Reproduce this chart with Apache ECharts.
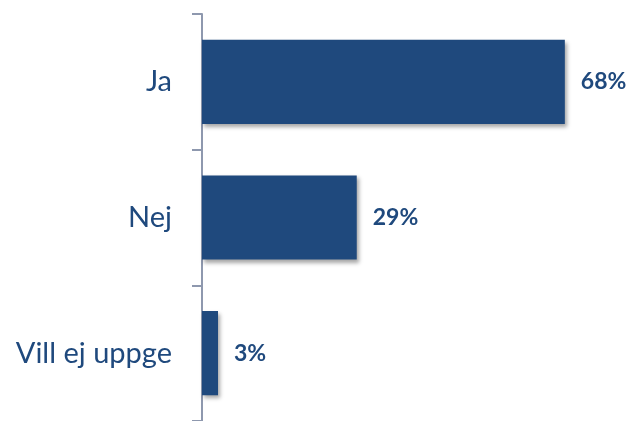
<!DOCTYPE html>
<html>
<head>
<meta charset="utf-8">
<script src="https://cdn.jsdelivr.net/npm/echarts@6/dist/echarts.min.js"></script>
<style>html,body{margin:0;padding:0;background:#fff;}#c{width:631px;height:421px;}</style>
</head>
<body>
<div id="c"></div>
<script>
var categories = ['Ja', 'Nej', 'Vill ej uppge'];
var values = [68, 29, 3];

var chart = echarts.init(document.getElementById('c'), null, {renderer: 'canvas'});
chart.setOption({
  animation: false,
  backgroundColor: '#ffffff',
  grid: {left: 202, top: 14, right: 0, height: 408, containLabel: false},
  xAxis: {type: 'value', min: 0, max: 80.4, show: false},
  yAxis: {
    type: 'category', data: categories, inverse: true,
    axisLine: {show: true, lineStyle: {color: '#8e98ae', width: 2}},
    axisTick: {show: true, length: 10, lineStyle: {color: '#8e98ae', width: 2}},
    axisLabel: {color: '#1f497d', fontSize: 29, fontFamily: 'Lato', margin: 30},
    splitLine: {show: false}
  },
  series: [{
    type: 'bar', data: values, barCategoryGap: '38%',
    itemStyle: {color: '#1f497d', shadowColor: 'rgba(0,0,0,0.35)', shadowBlur: 4, shadowOffsetX: 2, shadowOffsetY: 3},
    label: {show: true, position: 'right', distance: 16, formatter: '{c}%', color: '#1f497d', fontSize: 23, fontWeight: 'bold', fontFamily: 'Lato'}
  }]
});
</script>
</body>
</html>
